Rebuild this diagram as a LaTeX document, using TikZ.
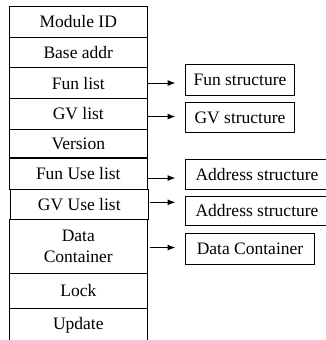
\documentclass[tikz,border=0pt]{standalone}
\usepackage{fontspec}
\setmainfont{Liberation Serif}
\usetikzlibrary{arrows.meta}
\begin{document}
\begin{tikzpicture}[x=1pt,y=-1pt,
  label font/.style={font=\fontsize{17.5}{21.5}\selectfont},
  cell/.style={draw, line width=1.1pt, inner sep=0pt, align=center,
    anchor=north west, minimum width=137.5pt, label font},
  sbox/.style={draw, line width=1pt, inner sep=0pt, align=center,
    anchor=north west, label font},
  link/.style={draw, line width=1pt, shorten >=9.5pt,
    -{Latex[length=8pt,width=6pt]}}]
\useasboundingbox (0,0) rectangle (326,340);

% module record, one field per row
\node[cell, minimum height=30.5pt] (modid)    at (9,6)     {Module ID};
\node[cell, minimum height=30.5pt] (baseaddr) at (9,36.5)  {Base addr};
\node[cell, minimum height=31pt]   (funlist)  at (9,67)    {Fun list};
\node[cell, minimum height=30.5pt] (gvlist)   at (9,98)    {GV list};
\node[cell, minimum height=28.8pt] (version)  at (9,128.5) {Version};
\node[cell, minimum height=30.5pt] (funuse)   at (9,158)   {Fun Use list};
\node[cell, minimum height=30.5pt] (gvuse)    at (10,188.5){GV Use list};
\node[cell, minimum height=54pt]   (datac)    at (9,219)   {Data\\Container};
\node[cell, minimum height=34.5pt] (lock)     at (9,273)   {Lock};
\node[cell, minimum height=34pt]   (update)   at (9,307.5) {Update};

% referenced structures
\node[sbox, minimum width=109pt, minimum height=30.7pt] (funstruct) at (185,64.3)  {Fun structure};
\node[sbox, minimum width=109pt, minimum height=30.6pt] (gvstruct)  at (185,101.7) {GV structure};
\node[sbox, minimum width=143pt, minimum height=30pt]   (addrA)     at (185,159.3) {Address structure};
\node[sbox, minimum width=143pt, minimum height=29.3pt] (addrB)     at (185,195.7) {Address structure};
\node[sbox, minimum width=129pt, minimum height=31.5pt] (dcbox)     at (185,232.7) {Data Container};

% pointers from fields to structures
\draw[link] (funlist.east) -- (funlist.east -| funstruct.west);
\draw[link] ([yshift=-2.75pt]gvlist.east) -- ([yshift=-2.75pt]gvlist.east -| gvstruct.west);
\draw[link] ([yshift=-4.25pt]funuse.east) -- ([yshift=-4.25pt]funuse.east -| addrA.west);
\draw[link, shorten <=1.5pt] ([yshift=2pt]gvuse.east) -- ([yshift=2pt]gvuse.east -| addrB.west);
\draw[link, shorten <=2.5pt] ([yshift=-1pt]datac.east) -- ([yshift=-1pt]datac.east -| dcbox.west);
\end{tikzpicture}
\end{document}
